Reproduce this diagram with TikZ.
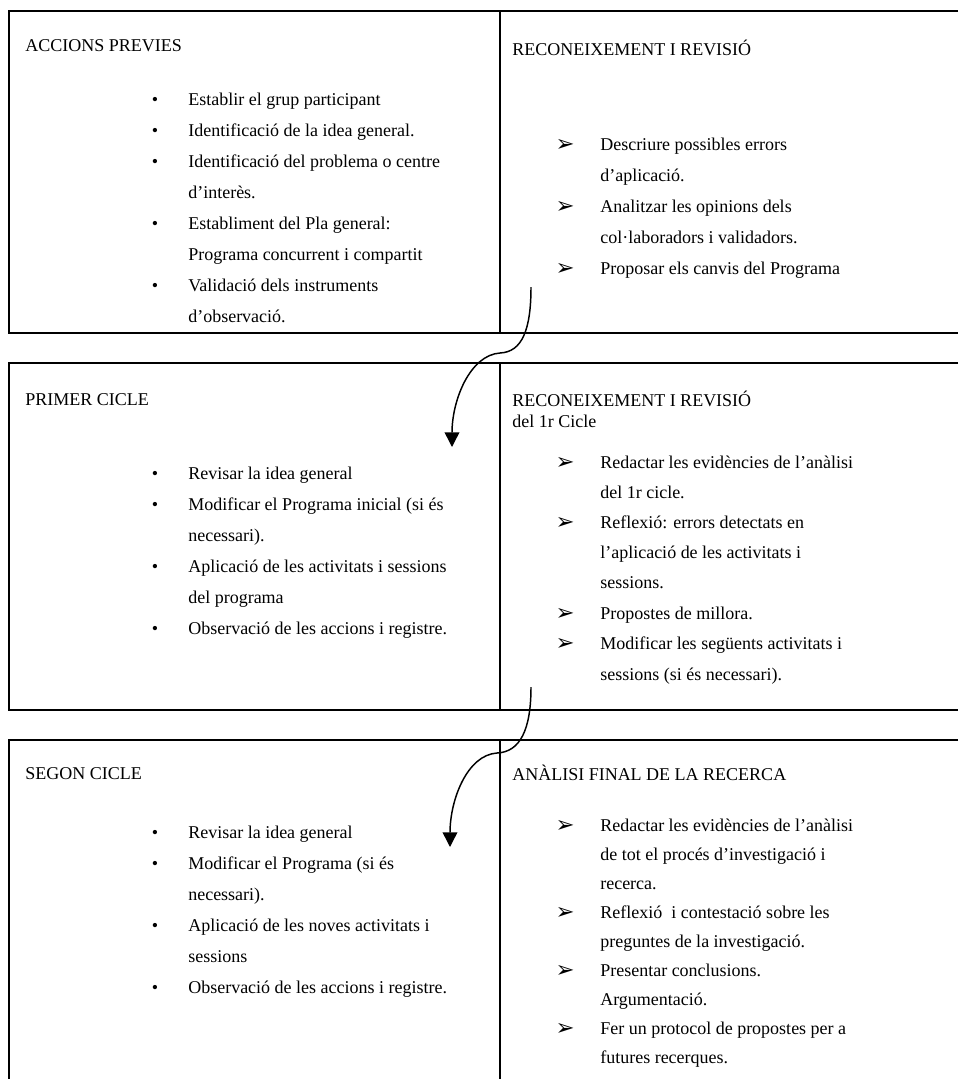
\documentclass[tikz,border=0pt]{standalone}
\usepackage{fontspec}
\setmainfont{Liberation Serif}
\newfontfamily\dejavu{DejaVu Sans}
\usetikzlibrary{arrows.meta}
\tikzset{
  rule/.style={line width=1.2pt},
  txt/.style={anchor=mid west, inner sep=0pt, font=\fontsize{13.5}{15}\selectfont},
  bul/.style={anchor=mid, inner sep=0pt, font=\fontsize{13.5}{15}\selectfont},
  arr/.style={anchor=center, inner sep=0pt, font=\dejavu\fontsize{17}{19}\selectfont},
  flow/.style={line width=1.1pt, -{Triangle[length=11pt,width=11pt]}}
}
\newcommand{\dotb}[2]{\node[bul] (#1) at (155,#2) {•};}
\newcommand{\arrb}[2]{\node[arr] (#1) at (565,#2-2) {➢};}
\begin{document}
\begin{tikzpicture}[x=0.75pt,y=-0.75pt]
\useasboundingbox (0,0) rectangle (958,1079);
% table frames
\draw[rule] (958,11) -- (9,11) -- (9,333) -- (958,333);
\draw[rule] (500,11) -- (500,333);
\draw[rule] (958,363) -- (9,363) -- (9,710) -- (958,710);
\draw[rule] (500,363) -- (500,710);
\draw[rule] (958,740) -- (9,740) -- (9,1079);
\draw[rule] (500,740) -- (500,1079);

% ---- table 1
\node[txt] (h1l) at (25,48) {ACCIONS PREVIES};
\node[txt] (h1r) at (512,52) {RECONEIXEMENT I REVISIÓ};
\dotb{b11}{102}\node[txt] (t11) at (188,102) {Establir el grup participant};
\dotb{b12}{133}\node[txt] (t12) at (188,133) {Identificació de la idea general.};
\dotb{b13}{164}\node[txt] (t13) at (188,164) {Identificació del problema o centre};
\node[txt] (t13b) at (188,195) {d’interès.};
\dotb{b14}{226}\node[txt] (t14) at (188,226) {Establiment del Pla general:};
\node[txt] (t14b) at (188,257) {Programa concurrent i compartit};
\dotb{b15}{288}\node[txt] (t15) at (188,288) {Validació dels instruments};
\node[txt] (t15b) at (188,319) {d’observació.};

\arrb{a11}{147}\node[txt] (r11) at (600,147) {Descriure possibles errors};
\node[txt] (r11b) at (600,178) {d’aplicació.};
\arrb{a12}{209}\node[txt] (r12) at (600,209) {Analitzar les opinions dels};
\node[txt] (r12b) at (600,240) {col·laboradors i validadors.};
\arrb{a13}{271}\node[txt] (r13) at (600,271) {Proposar els canvis del Programa};

% ---- table 2
\node[txt] (h2l) at (25,402) {PRIMER CICLE};
\node[txt] (h2r) at (512,403) {RECONEIXEMENT I REVISIÓ};
\node[txt] (h2r2) at (512,424) {del 1r Cicle};
\dotb{b21}{476}\node[txt] (t21) at (188,476) {Revisar la idea general};
\dotb{b22}{507}\node[txt] (t22) at (188,507) {Modificar el Programa inicial (si és};
\node[txt] (t22b) at (188,538) {necessari).};
\dotb{b23}{569}\node[txt] (t23) at (188,569) {Aplicació de les activitats i sessions};
\node[txt] (t23b) at (188,600) {del programa};
\dotb{b24}{631}\node[txt] (t24) at (188,631) {Observació de les accions i registre.};

\arrb{a21}{465}\node[txt] (r21) at (600,465) {Redactar les evidències de l’anàlisi};
\node[txt] (r21b) at (600,495) {del 1r cicle.};
\arrb{a22}{525}\node[txt] (r22) at (600,525) {Reflexió: errors detectats en};
\node[txt] (r22b) at (600,555) {l’aplicació de les activitats i};
\node[txt] (r22c) at (600,585) {sessions.};
\arrb{a23}{616}\node[txt] (r23) at (600,616) {Propostes de millora.};
\arrb{a24}{646}\node[txt] (r24) at (600,646) {Modificar les següents activitats i};
\node[txt] (r24b) at (600,677) {sessions (si és necessari).};

% ---- table 3
\node[txt] (h3l) at (25,776) {SEGON CICLE};
\node[txt] (h3r) at (512,777) {ANÀLISI FINAL DE LA RECERCA};
\dotb{b31}{835}\node[txt] (t31) at (188,835) {Revisar la idea general};
\dotb{b32}{866}\node[txt] (t32) at (188,866) {Modificar el Programa (si és};
\node[txt] (t32b) at (188,897) {necessari).};
\dotb{b33}{928}\node[txt] (t33) at (188,928) {Aplicació de les noves activitats i};
\node[txt] (t33b) at (188,959) {sessions};
\dotb{b34}{990}\node[txt] (t34) at (188,990) {Observació de les accions i registre.};

\arrb{a31}{828}\node[txt] (r31) at (600,828) {Redactar les evidències de l’anàlisi};
\node[txt] (r31b) at (600,857) {de tot el procés d’investigació i};
\node[txt] (r31c) at (600,886) {recerca.};
\arrb{a32}{915}\node[txt] (r32) at (600,915) {Reflexió\ \ i contestació sobre les};
\node[txt] (r32b) at (600,944) {preguntes de la investigació.};
\arrb{a33}{973}\node[txt] (r33) at (600,973) {Presentar conclusions.};
\node[txt] (r33b) at (600,1002) {Argumentació.};
\arrb{a34}{1031}\node[txt] (r34) at (600,1031) {Fer un protocol de propostes per a};
\node[txt] (r34b) at (600,1060) {futures recerques.};

% ---- connectors
\coordinate (s1) at (531,287);
\coordinate (m1) at (500,353);
\coordinate (e1) at (452,447);
\coordinate (s2) at (531,687);
\coordinate (m2) at (497,753);
\coordinate (e2) at (450,847);
\draw[flow] (s1) .. controls (531,330) and (522,352) .. (m1) .. controls (470,355) and (452,400) .. (e1);
\draw[flow] (s2) .. controls (531,730) and (520,752) .. (m2) .. controls (467,755) and (450,800) .. (e2);
\end{tikzpicture}
\end{document}
